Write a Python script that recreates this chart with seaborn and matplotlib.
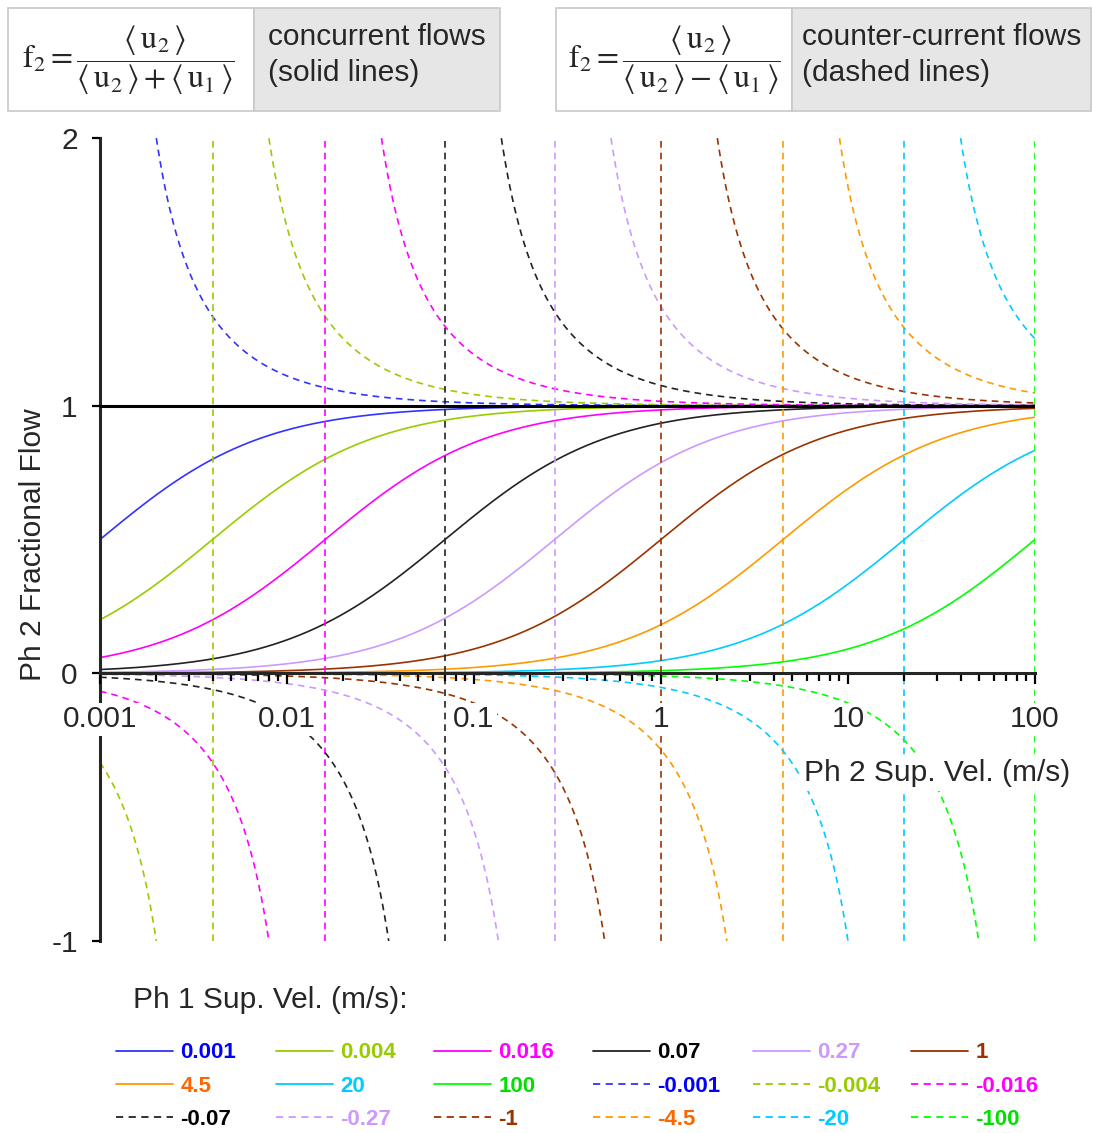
import numpy as np
import pandas as pd
import matplotlib
matplotlib.use("Agg")
import matplotlib.pyplot as plt
from matplotlib.lines import Line2D
from matplotlib.patches import Rectangle
from matplotlib.ticker import FixedLocator, LogLocator, NullFormatter
import seaborn as sns

# ---------------- data ----------------
ph1_concurrent = [0.001, 0.004, 0.016, 0.07, 0.27, 1, 4.5, 20, 100]
ph1_counter = [-0.001, -0.004, -0.016, -0.07, -0.27, -1, -4.5, -20, -100]
concurrent_labels = ["0.001", "0.004", "0.016", "0.07", "0.27", "1", "4.5", "20", "100"]
counter_labels = ["-0.001", "-0.004", "-0.016", "-0.07", "-0.27", "-1", "-4.5", "-20", "-100"]
line_colors = ["#3333ff", "#99cc00", "#ff00ff", "#222222", "#cc99ff",
               "#993300", "#ff9900", "#00ccff", "#00ff00"]
label_colors = ["#0000ff", "#99cc00", "#ff00ff", "#000000", "#cc99ff",
                "#993300", "#ff6600", "#00ccff", "#00e000"]
x_ticks = [0.001, 0.01, 0.1, 1, 10, 100]
x_tick_labels = ["0.001", "0.01", "0.1", "1", "10", "100"]
y_ticks = [-1, 0, 1, 2]
y_tick_labels = ["-1", "0", "1", "2"]
ph2_min, ph2_max = 0.001, 100

# ---------------- style ----------------
sns.set_style("white")
plt.rcParams["font.family"] = ["Liberation Sans", "DejaVu Sans"]
plt.rcParams["mathtext.fontset"] = "stix"

W, H = 1093, 1133
fig = plt.figure(figsize=(W / 100, H / 100), dpi=100)
ax = fig.add_axes([100 / W, 1 - 941 / H, 935 / W, 803 / H])

u2 = np.geomspace(ph2_min, ph2_max, 2500)
DASH = (0, (4, 3))

def draw(x, y, color, ls):
    df = pd.DataFrame({"u2": x, "f2": y})
    sns.lineplot(data=df, x="u2", y="f2", color=color, linestyle=ls, lw=1.2,
                 sort=False, estimator=None, ax=ax, legend=False, zorder=2)

# concurrent flows: f2 = u2 / (u2 + u1)
for u1, c in zip(ph1_concurrent, line_colors):
    draw(u2, u2 / (u2 + u1), c, "-")

# counter-current flows: f2 = u2 / (u2 - |u1|)
for u1, c in zip(ph1_counter, line_colors):
    a = -u1
    f = u2 / (u2 + u1)
    lo = (u2 < a) & (f > -1.6)
    hi = (u2 > a) & (f < 2.6)
    if lo.sum() > 1:
        draw(u2[lo], f[lo], c, DASH)
    if hi.sum() > 1:
        draw(u2[hi], f[hi], c, DASH)
    ax.axvline(a, color=c, lw=1.2, linestyle=DASH, zorder=2)

ax.axhline(1, color="black", lw=2.2, zorder=3)

ax.set_xscale("log")
ax.set_xlim(ph2_min, ph2_max)
ax.set_ylim(-1, 2)
ax.set_axisbelow(False)

for s in ["top", "right"]:
    ax.spines[s].set_visible(False)
ax.spines["bottom"].set_position(("data", 0))
ax.spines["bottom"].set_linewidth(2.2)
ax.spines["left"].set_linewidth(2.2)
ax.spines["bottom"].set_zorder(3)

ax.xaxis.set_major_locator(FixedLocator(x_ticks))
ax.set_xticklabels(x_tick_labels)
ax.xaxis.set_minor_locator(LogLocator(base=10, subs=np.arange(2, 10)))
ax.xaxis.set_minor_formatter(NullFormatter())
ax.set_yticks(y_ticks)
ax.set_yticklabels(y_tick_labels)
ax.tick_params(axis="x", which="both", bottom=True, top=False)
ax.tick_params(axis="y", which="both", left=True, right=False)
ax.tick_params(axis="x", which="major", direction="out", length=8, width=1.6,
               labelsize=21.5, pad=15, color="black")
ax.tick_params(axis="x", which="minor", direction="out", length=5.5, width=1.6,
               color="black")
ax.tick_params(axis="y", which="major", direction="out", length=6, width=1.6,
               labelsize=21.5, pad=10, color="black")
ax.set_xlabel("")
ax.set_ylabel("")
for t in ax.xaxis.get_major_ticks():
    t.label1.set_bbox(dict(facecolor="white", edgecolor="none", pad=2))

ax.text(-0.072, 0.493, "Ph 2 Fractional Flow", transform=ax.transAxes,
        rotation=90, ha="center", va="center", fontsize=21.5)
fig.text(1070 / W, 1 - 773 / H, "Ph 2 Sup. Vel. (m/s)", ha="right", va="center",
         fontsize=21.5, bbox=dict(facecolor="white", edgecolor="none", pad=3))

# ---------------- header boxes ----------------
def box(x0, xm, x1, y0, y1):
    fig.patches.append(Rectangle((x0 / W, 1 - y1 / H), (xm - x0) / W, (y1 - y0) / H,
                                 transform=fig.transFigure, facecolor="white",
                                 edgecolor="#c8c8c8", lw=1.2))
    fig.patches.append(Rectangle((xm / W, 1 - y1 / H), (x1 - xm) / W, (y1 - y0) / H,
                                 transform=fig.transFigure, facecolor="#e6e6e6",
                                 edgecolor="#c8c8c8", lw=1.2))

box(8, 254, 500, 8, 111)
box(556, 792, 1091, 8, 111)

fig.text(128 / W, 1 - 60 / H,
         r"$\mathrm{f}_2 = \dfrac{\langle\,\mathrm{u}_2\,\rangle}{\langle\,\mathrm{u}_2\,\rangle + \langle\,\mathrm{u}_1\,\rangle}$",
         ha="center", va="center", fontsize=23)
fig.text(674 / W, 1 - 60 / H,
         r"$\mathrm{f}_2 = \dfrac{\langle\,\mathrm{u}_2\,\rangle}{\langle\,\mathrm{u}_2\,\rangle - \langle\,\mathrm{u}_1\,\rangle}$",
         ha="center", va="center", fontsize=23)
fig.text(268 / W, 1 - 37 / H, "concurrent flows", ha="left", va="center", fontsize=21.5)
fig.text(268 / W, 1 - 73 / H, "(solid lines)", ha="left", va="center", fontsize=21.5)
fig.text(802 / W, 1 - 37 / H, "counter-current flows", ha="left", va="center", fontsize=21.5)
fig.text(802 / W, 1 - 73 / H, "(dashed lines)", ha="left", va="center", fontsize=21.5)

# ---------------- legend ----------------
fig.text(133 / W, 1 - 1000 / H, "Ph 1 Sup. Vel. (m/s):", ha="left", va="center",
         fontsize=21.5)

entries = ([(lab, c, tc, "-") for lab, c, tc in zip(concurrent_labels, line_colors, label_colors)] +
           [(lab, c, tc, DASH) for lab, c, tc in zip(counter_labels, line_colors, label_colors)])
col_x = [116, 276, 434, 593, 753, 911]
ncol = 6
for ci in range(ncol):
    items = entries[ci::ncol]
    handles = [Line2D([], [], color=c, lw=1.3, linestyle=ls) for _, c, _, ls in items]
    labels = [lab for lab, _, _, _ in items]
    leg = fig.legend(handles, labels, loc="center left",
                     bbox_to_anchor=(col_x[ci] / W, 1 - 1086 / H),
                     frameon=False, borderpad=0, borderaxespad=0,
                     handlelength=2.55, handletextpad=0.35, labelspacing=0.55,
                     prop={"size": 16, "weight": "bold"})
    for txt, (_, _, tc, _) in zip(leg.get_texts(), items):
        txt.set_color(tc)

fig.savefig("out.png", dpi=100)
